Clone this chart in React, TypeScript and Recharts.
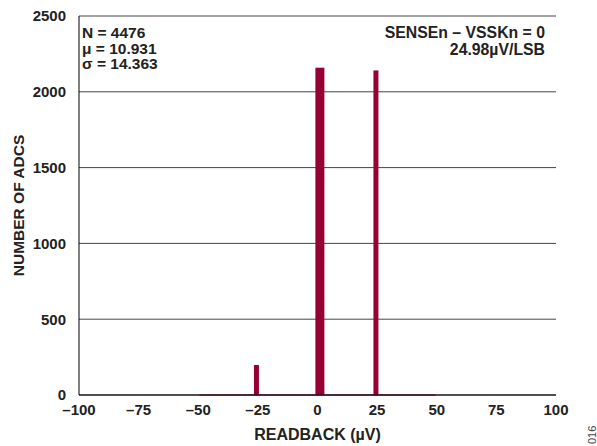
import React from 'react';
import { ComposedChart, Bar, Line, XAxis, YAxis, CartesianGrid } from 'recharts';

const readbackUv = [-25.8, 0.8, 24.3];
const adcCounts = [198, 2159, 2141];
const baselineX = [-49.5, 49.5];
const baselineY = [0, 0];
const xTicks = [-100, -75, -50, -25, 0, 25, 50, 75, 100];
const yTicks = [0, 500, 1000, 1500, 2000, 2500];
const statsLines = ['N = 4476', 'μ = 10.931', 'σ = 14.363'];
const condLines = ['SENSEn – VSSKn = 0', '24.98µV/LSB'];

const barData = readbackUv.map((x, i) => ({ x, count: adcCounts[i] }));
const baseData = baselineX.map((x, i) => ({ x, count: baselineY[i] }));

const FONT = '"Liberation Sans", Arial, Helvetica, sans-serif';
const RED = '#960032';

const BarShape = (p: any) => {
  const w = p.payload && p.payload.count > 2150 ? 9 : 5;
  const cx = p.x + p.width / 2;
  return <rect x={cx - w / 2} y={p.y} width={w} height={p.height} fill={RED} />;
};

const fmtX = (v: number) => (v < 0 ? '–' + Math.abs(v) : String(v));

export default function App() {
  return (
    <div style={{ position: 'absolute', left: 0, top: 0, width: 597, height: 446 }}>
      <ComposedChart
        width={597}
        height={446}
        data={barData}
        margin={{ top: 16, right: 41, bottom: 0, left: 0 }}
        style={{ fontFamily: FONT }}
      >
        <CartesianGrid vertical={false} stroke="#444" strokeWidth={1} />
        <XAxis
          dataKey="x"
          type="number"
          domain={[-100, 100]}
          ticks={xTicks}
          tickFormatter={fmtX}
          height={51}
          tickSize={0}
          tickMargin={9}
          axisLine={{ stroke: '#000', strokeWidth: 1 }}
          tick={{ fill: '#222', fontSize: 15, fontWeight: 700, fontFamily: FONT }}
          label={{ value: 'READBACK (µV)', position: 'insideBottom', offset: 6, fill: '#222', fontSize: 16, fontWeight: 700, fontFamily: FONT }}
          allowDataOverflow
        />
        <XAxis xAxisId="top" orientation="top" type="number" domain={[-100, 100]} height={0} tick={false} tickLine={false} axisLine={{ stroke: '#000' }} />
        <YAxis
          type="number"
          domain={[0, 2500]}
          ticks={yTicks}
          width={79}
          tickSize={0}
          tickMargin={13}
          axisLine={{ stroke: '#000', strokeWidth: 1 }}
          tick={{ fill: '#222', fontSize: 15, fontWeight: 700, fontFamily: FONT }}
          label={{ value: 'NUMBER OF ADCS', angle: -90, position: 'insideLeft', offset: 18, textAnchor: 'middle', fill: '#222', fontSize: 15.5, fontWeight: 700, fontFamily: FONT }}
        />
        <YAxis yAxisId="right" orientation="right" domain={[0, 2500]} width={0} tick={false} tickLine={false} axisLine={{ stroke: '#000' }} />
        <Line data={baseData} dataKey="count" stroke={RED} strokeWidth={1} dot={false} isAnimationActive={false} />
        <Bar dataKey="count" barSize={5} shape={BarShape} isAnimationActive={false} />
        <text x={82} y={38} fill="#222" fontSize={15.5} fontWeight={700} fontFamily={FONT}>
          {statsLines.map((s, i) => (
            <tspan key={s} x={82} dy={i === 0 ? 0 : 15.7}>{s}</tspan>
          ))}
        </text>
        <text x={545} y={38} fill="#222" fontSize={15.8} fontWeight={700} fontFamily={FONT} textAnchor="end">
          {condLines.map((s, i) => (
            <tspan key={s} x={545} dy={i === 0 ? 0 : 16.5}>{s}</tspan>
          ))}
        </text>
      </ComposedChart>
      <div style={{ position: 'absolute', left: 588, top: 444, fontFamily: FONT, fontSize: 11, lineHeight: '8px', color: '#444', transform: 'rotate(-90deg)', transformOrigin: 'left top', whiteSpace: 'nowrap' }}>016</div>
    </div>
  );
}
